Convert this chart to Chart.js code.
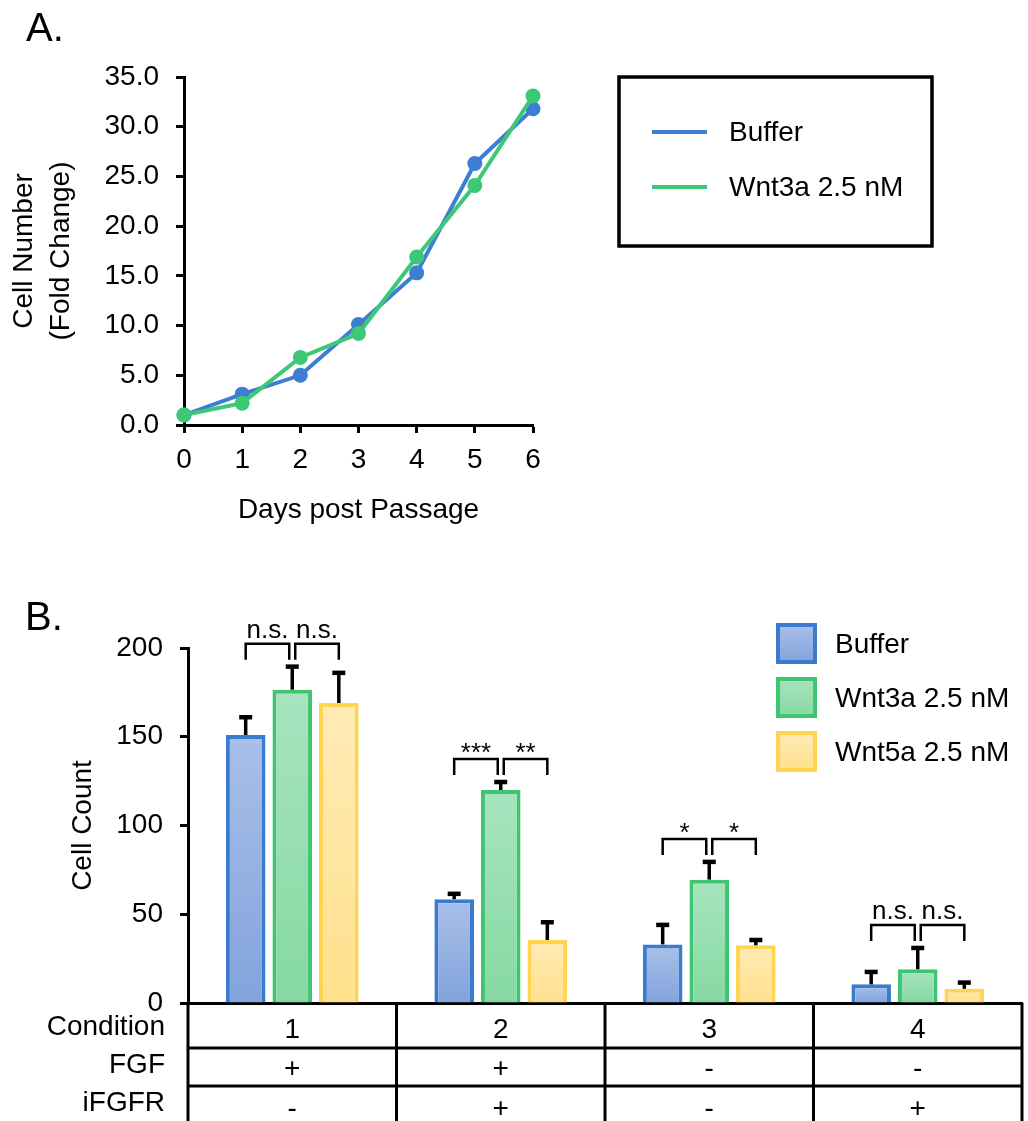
<!DOCTYPE html>
<html>
<head>
<meta charset="utf-8">
<title>Cell growth and cell count</title>
<script src="https://cdn.jsdelivr.net/npm/chart.js@4.4.1/dist/chart.umd.min.js"></script>
<style>
    body { margin: 0; background: #fff; }
    .wrap { position: relative; width: 1028px; height: 1121px; overflow: hidden; font-family: 'Liberation Sans', Arial, sans-serif; }
    canvas { position: absolute; left: 0; }
    .panel-label { position: absolute; font-size: 40px; line-height: 1; color: #000; z-index: 2; }
</style>
</head>
<body>
<div class="wrap">
    <canvas id="growthChart" width="1028" height="560" style="top:0"></canvas>
    <canvas id="countChart" width="1028" height="561" style="top:560px"></canvas>
    <div class="panel-label" style="left:26px;top:7px">A.</div>
    <div class="panel-label" style="left:25px;top:596px">B.</div>
</div>
<script>
// --- Panel A data: fold change in cell number ---
const days = [0, 1, 2, 3, 4, 5, 6];
const bufferGrowth = [1.0, 3.1, 5.0, 10.1, 15.3, 26.3, 31.8];
const wnt3aGrowth = [1.0, 2.2, 6.8, 9.2, 16.9, 24.1, 33.1];

// --- Panel B data: cell counts per condition ---
const conditions = ['1', '2', '3', '4'];
const fgf = ['+', '+', '-', '-'];
const ifgfr = ['-', '+', '-', '+'];
const bufferCount = [151, 58.5, 33, 10.5];
const wnt3aCount = [176.5, 120, 69.5, 19];
const wnt5aCount = [169, 35.5, 32.5, 8];
const bufferErr = [10, 3, 11, 7];
const wnt3aErr = [13, 4.5, 10, 12];
const wnt5aErr = [17, 10, 3, 3.5];
const sigLeft = ['n.s.', '***', '*', 'n.s.'];
const sigRight = ['n.s.', '**', '*', 'n.s.'];

const BLUE = '#3d7ed3';
const GREEN = '#3dc878';
const FONT = "'Liberation Sans', Arial, sans-serif";

Chart.defaults.font.family = FONT;
Chart.defaults.font.size = 28;
Chart.defaults.color = '#000';
Chart.defaults.animation = false;

const axisLine = { color: '#000', width: 3 };
const tickMarks = { drawOnChartArea: false, drawTicks: true, tickLength: 8, tickColor: '#000', tickWidth: 3, color: '#000' };

// --- 1. Legend box for panel A ---
const lineLegend = {
    id: 'lineLegend',
    afterDraw(chart) {
        const ctx = chart.ctx;
        ctx.save();
        ctx.strokeStyle = '#000';
        ctx.lineWidth = 3.5;
        ctx.strokeRect(619, 77, 313, 169);
        ctx.font = '28px ' + FONT;
        ctx.textBaseline = 'middle';
        ctx.fillStyle = '#000';
        chart.data.datasets.forEach((ds, i) => {
            const y = 132 + i * 55;
            ctx.strokeStyle = ds.borderColor;
            ctx.lineWidth = 4;
            ctx.beginPath();
            ctx.moveTo(652, y);
            ctx.lineTo(707, y);
            ctx.stroke();
            ctx.fillText(ds.label, 729, y + 1);
        });
        ctx.restore();
    }
};

new Chart(document.getElementById('growthChart'), {
    type: 'line',
    data: {
        datasets: [
            {
                label: 'Buffer',
                data: days.map((d, i) => ({ x: d, y: bufferGrowth[i] })),
                borderColor: BLUE,
                backgroundColor: BLUE,
                borderWidth: 4,
                pointRadius: 7.5,
                pointBorderWidth: 0,
                clip: false,
                order: 1
            },
            {
                label: 'Wnt3a 2.5 nM',
                data: days.map((d, i) => ({ x: d, y: wnt3aGrowth[i] })),
                borderColor: GREEN,
                backgroundColor: GREEN,
                borderWidth: 4,
                pointRadius: 7.5,
                pointBorderWidth: 0,
                clip: false,
                order: 0
            }
        ]
    },
    options: {
        responsive: false,
        devicePixelRatio: 1,
        layout: { padding: { top: 77, right: 495, bottom: 33, left: 0 } },
        plugins: { legend: { display: false }, tooltip: { enabled: false } },
        scales: {
            x: {
                type: 'linear',
                min: 0,
                max: 6,
                ticks: { stepSize: 1, padding: 10 },
                grid: tickMarks,
                border: axisLine,
                title: { display: true, text: 'Days post Passage', padding: 0 },
                afterFit: s => { s.height = 102; }
            },
            y: {
                min: 0,
                max: 35,
                ticks: { stepSize: 5, padding: 17, callback: v => v.toFixed(1) },
                grid: tickMarks,
                border: axisLine,
                title: {
                    display: true,
                    text: ['Cell Number', '(Fold Change)'],
                    font: { size: 28, lineHeight: 1.35 },
                    padding: { top: 5, bottom: 0 }
                },
                afterFit: s => { s.width = 184; }
            }
        }
    },
    plugins: [lineLegend]
});

// --- 2. Panel B helpers ---
function barFill(top, bottom) {
    return ctx => {
        const chart = ctx.chart;
        if (!chart.chartArea || ctx.type !== 'data') return bottom;
        const y = chart.scales.y;
        const g = chart.ctx.createLinearGradient(0, y.getPixelForValue(ctx.raw), 0, y.getPixelForValue(0));
        g.addColorStop(0, top);
        g.addColorStop(1, bottom);
        return g;
    };
}

const barStyles = [
    { border: '#3a7bcf', top: '#a9c0e8', bottom: '#82a3dc' },
    { border: '#3ec56f', top: '#a8e4bf', bottom: '#86d9a2' },
    { border: '#ffd450', top: '#ffebb6', bottom: '#ffe08c' }
];

const errorBars = {
    id: 'errorBars',
    afterDatasetsDraw(chart) {
        const ctx = chart.ctx;
        const y = chart.scales.y;
        ctx.save();
        ctx.strokeStyle = '#000';
        chart.data.datasets.forEach((ds, di) => {
            chart.getDatasetMeta(di).data.forEach((bar, i) => {
                const top = y.getPixelForValue(ds.data[i] + ds.errors[i]);
                ctx.lineWidth = 3.5;
                ctx.beginPath();
                ctx.moveTo(bar.x, bar.y);
                ctx.lineTo(bar.x, top);
                ctx.stroke();
                ctx.lineWidth = 4.5;
                ctx.beginPath();
                ctx.moveTo(bar.x - 6.5, top);
                ctx.lineTo(bar.x + 6.5, top);
                ctx.stroke();
            });
        });
        ctx.restore();
    }
};

const sigBrackets = {
    id: 'sigBrackets',
    afterDatasetsDraw(chart) {
        const ctx = chart.ctx;
        const y = chart.scales.y;
        const sets = chart.data.datasets;
        const metas = sets.map((_, i) => chart.getDatasetMeta(i));
        ctx.save();
        ctx.strokeStyle = '#000';
        ctx.fillStyle = '#000';
        ctx.lineWidth = 2.5;
        ctx.font = '26px ' + FONT;
        ctx.textAlign = 'center';
        ctx.textBaseline = 'alphabetic';
        conditions.forEach((_, i) => {
            const peak = Math.max(...sets.map(ds => ds.data[i] + ds.errors[i]));
            const legY = y.getPixelForValue(peak) - 7;
            const topY = legY - 16;
            const xa = metas[0].data[i].x;
            const xb = metas[1].data[i].x;
            const xc = metas[2].data[i].x;
            [[xa, xb - 3, sigLeft[i]], [xb + 3, xc, sigRight[i]]].forEach(([x1, x2, label]) => {
                ctx.beginPath();
                ctx.moveTo(x1, legY);
                ctx.lineTo(x1, topY);
                ctx.lineTo(x2, topY);
                ctx.lineTo(x2, legY);
                ctx.stroke();
                const base = label.startsWith('*') ? topY + 2 : topY - 6;
                ctx.fillText(label, (x1 + x2) / 2, base);
            });
        });
        ctx.restore();
    }
};

const barLegend = {
    id: 'barLegend',
    afterDraw(chart) {
        const ctx = chart.ctx;
        ctx.save();
        ctx.font = '28px ' + FONT;
        ctx.textBaseline = 'middle';
        chart.data.datasets.forEach((ds, i) => {
            const st = barStyles[i];
            const top = 63 + i * 54;
            const g = ctx.createLinearGradient(0, top, 0, top + 41);
            g.addColorStop(0, st.top);
            g.addColorStop(1, st.bottom);
            ctx.fillStyle = g;
            ctx.fillRect(776, top, 41, 41);
            ctx.strokeStyle = st.border;
            ctx.lineWidth = 4;
            ctx.strokeRect(778, top + 2, 37, 37);
            ctx.fillStyle = '#000';
            ctx.fillText(ds.label, 835, top + 22);
        });
        ctx.restore();
    }
};

const conditionTable = {
    id: 'conditionTable',
    afterDraw(chart) {
        const ctx = chart.ctx;
        const { left, right, bottom } = chart.chartArea;
        const h = chart.height;
        const colW = (right - left) / conditions.length;
        const rows = [
            { name: 'Condition', cells: conditions, labelY: 24, cellY: 27 },
            { name: 'FGF', cells: fgf, labelY: 62, cellY: 66 },
            { name: 'iFGFR', cells: ifgfr, labelY: 100, cellY: 106 }
        ];
        ctx.save();
        ctx.strokeStyle = '#000';
        ctx.lineWidth = 3;
        ctx.beginPath();
        [45, 83].forEach(dy => {
            ctx.moveTo(left, bottom + dy);
            ctx.lineTo(right, bottom + dy);
        });
        for (let k = 0; k <= conditions.length; k++) {
            const x = left + k * colW;
            ctx.moveTo(x, bottom);
            ctx.lineTo(x, h);
        }
        ctx.stroke();
        ctx.fillStyle = '#000';
        ctx.font = '28px ' + FONT;
        ctx.textBaseline = 'middle';
        rows.forEach(row => {
            ctx.textAlign = 'right';
            ctx.fillText(row.name, 165, bottom + row.labelY);
            ctx.textAlign = 'center';
            row.cells.forEach((c, i) => {
                ctx.fillText(c, chart.scales.x.getPixelForValue(i), bottom + row.cellY);
            });
        });
        ctx.restore();
    }
};

// --- 3. Panel B chart ---
const countSets = [
    { label: 'Buffer', data: bufferCount, errors: bufferErr },
    { label: 'Wnt3a 2.5 nM', data: wnt3aCount, errors: wnt3aErr },
    { label: 'Wnt5a 2.5 nM', data: wnt5aCount, errors: wnt5aErr }
];

new Chart(document.getElementById('countChart'), {
    type: 'bar',
    data: {
        labels: conditions,
        datasets: countSets.map((s, i) => ({
            label: s.label,
            data: s.data,
            errors: s.errors,
            backgroundColor: barFill(barStyles[i].top, barStyles[i].bottom),
            borderColor: barStyles[i].border,
            borderWidth: 4,
            borderSkipped: 'start',
            categoryPercentage: 0.67,
            barPercentage: 0.85
        }))
    },
    options: {
        responsive: false,
        devicePixelRatio: 1,
        layout: { padding: { top: 88, right: 6, bottom: 0, left: 0 } },
        plugins: { legend: { display: false }, tooltip: { enabled: false } },
        scales: {
            x: {
                grid: { display: false },
                ticks: { display: false },
                border: axisLine,
                afterFit: s => { s.height = 118; }
            },
            y: {
                min: 0,
                max: 200,
                ticks: { stepSize: 50, padding: 17 },
                grid: tickMarks,
                border: axisLine,
                title: { display: true, text: 'Cell Count', padding: { top: 66, bottom: 0 } },
                afterFit: s => { s.width = 188; }
            }
        }
    },
    plugins: [errorBars, sigBrackets, barLegend, conditionTable]
});
</script>
</body>
</html>
